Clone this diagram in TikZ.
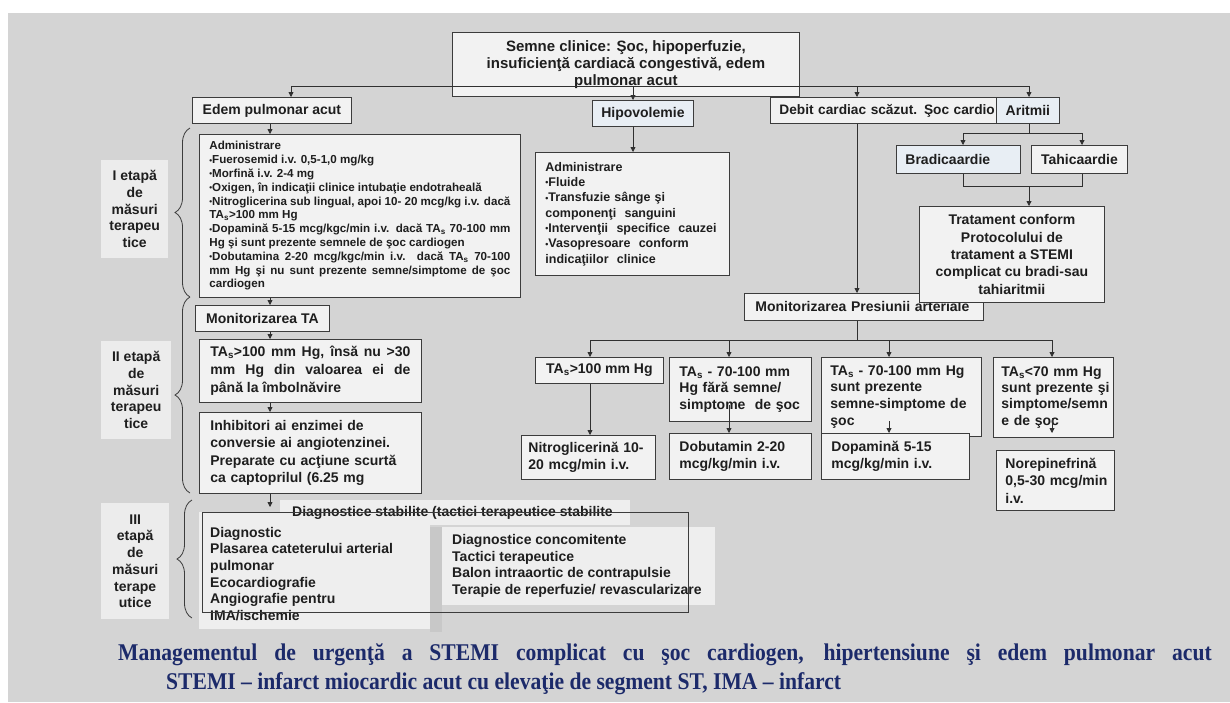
\documentclass[tikz,border=0pt]{standalone}
\usepackage{fontspec}
\setmainfont{Liberation Sans}
\newfontfamily\capfont{Liberation Serif}
\usetikzlibrary{arrows.meta,decorations.pathreplacing}
\definecolor{bg}{HTML}{D4D4D4}
\definecolor{bf}{HTML}{F2F2F2}
\definecolor{bl}{HTML}{E8EEF4}
\definecolor{lb}{HTML}{ECECEC}
\definecolor{pn}{HTML}{EEEEEE}
\definecolor{sh}{HTML}{C8C8C8}
\definecolor{bd}{HTML}{3C3C3C}
\definecolor{lc}{HTML}{303030}
\definecolor{tx}{HTML}{1E1E1E}
\definecolor{cap}{HTML}{1C2A6A}
\hyphenpenalty=10000
\exhyphenpenalty=10000
\newcommand{\fs}[2]{\fontsize{#1}{#2}\selectfont\bfseries\hyphenpenalty=10000\exhyphenpenalty=10000}
\newcommand{\bul}{\raisebox{0.1ex}{\scalebox{0.7}{•}}}
\newcommand{\TAs}{TA\textsubscript{s}}
\tikzset{
  box/.style={draw=bd, fill=bf, line width=0.8pt, inner sep=0pt, anchor=north west, text=tx, font=\fs{14}{17}},
  lbox/.style={box, align=left},
  lbl/.style={fill=lb, inner sep=0pt, anchor=north west, align=center, text=tx, font=\fs{14}{16.7}},
  conn/.style={draw=lc, line width=0.8pt},
  arr/.style={conn, -{Triangle[length=5pt,width=5pt]}},
  brc/.style={draw=bd, line width=0.8pt, decorate, decoration={brace, amplitude=15pt}},
  captxt/.style={anchor=west, inner sep=0pt, text=cap, font=\capfont\bfseries\fontsize{24}{27}\selectfont},
}
\begin{document}
\begin{tikzpicture}[x=1pt,y=-1pt]
\useasboundingbox (0,0) rectangle (1230,702);
\fill[white] (0,0) rectangle (1230,702);
\fill[bg] (8,13) rectangle (1230,702);

% ---- top
\node[box, minimum width=347pt, minimum height=64pt, align=center, font=\fs{15}{17}] (top) at (452,32)
  {Semne clinice: Şoc, hipoperfuzie,\\ insuficienţă cardiacă congestivă, edem\\ pulmonar acut};

% ---- row 1
\node[box, minimum width=159pt, minimum height=26pt] (edem) at (192,97) {Edem pulmonar acut};
\node[box, fill=bl, minimum width=101pt, minimum height=26pt] (hipo) at (592,100) {Hipovolemie};
\node[lbox, text width=209pt, inner xsep=9pt, minimum height=26pt, font=\fs{13.7}{17}] (debit) at (770,97) {\mbox{Debit cardiac scăzut. Şoc cardio}};
\node[box, fill=bl, minimum width=63pt, minimum height=26pt] (aritmii) at (996,97) {Aritmii};

% ---- aritmii branch
\node[lbox, fill=bl, text width=106pt, inner xsep=9pt, minimum height=28pt] (brad) at (896,145) {Bradicaardie};
\node[box, minimum width=96pt, minimum height=28pt] (tahi) at (1031,145) {Tahicaardie};
\node[box, minimum width=239pt, minimum height=27pt, lbox, text width=217pt, inner xsep=11pt] (monp) at (744,293) {\mbox{Monitorizarea Presiunii arteriale}};
\node[box, minimum width=185pt, minimum height=96pt, align=center, font=\fs{14}{17.3}] (trat) at (919,206)
  {Tratament conform\\ Protocolului de\\ tratament a STEMI\\ complicat cu bradi-sau\\ tahiaritmii};

% ---- pressure branch
\node[box, minimum width=128pt, minimum height=26pt] (t1) at (535,357) {\TAs>100 mm Hg};
\node[lbox, text width=122pt, inner xsep=10pt, minimum height=64pt, font=\fs{14}{16.7}] (t2) at (669,357)
  {\TAs{} - 70-100 mm\\ Hg fără semne/\\ simptome \ de şoc};
\node[lbox, text width=142pt, inner xsep=9pt, minimum height=79pt, font=\fs{14}{16.7}] (t3) at (821,357)
  {\mbox{\TAs{} - 70-100 mm Hg}\\ sunt prezente\\ \mbox{semne-simptome de}\\ şoc};
\node[lbox, text width=104pt, inner xsep=8pt, minimum height=80pt, font=\fs{14}{16.2}] (t4) at (993,357)
  {\mbox{\TAs<70 mm Hg}\\ \mbox{sunt prezente şi}\\ \mbox{simptome/semn}\\ e de şoc};
\node[lbox, text width=120pt, inner xsep=7pt, minimum height=44pt, font=\fs{14}{17}] (n1) at (521,435)
  {\mbox{Nitroglicerină 10-}\\ 20 mcg/min i.v.};
\node[lbox, text width=122pt, inner xsep=10pt, minimum height=46pt, font=\fs{14}{17}] (n2) at (669,433)
  {Dobutamin 2-20\\ mcg/kg/min i.v.};
\node[lbox, text width=128pt, inner xsep=10pt, minimum height=46pt, font=\fs{14}{17}] (n3) at (821,433)
  {Dopamină 5-15\\ mcg/kg/min i.v.};
\node[lbox, text width=100pt, inner xsep=9pt, minimum height=60pt, font=\fs{14}{17.5}] (n4) at (996,450)
  {Norepinefrină\\ \mbox{0,5-30 mcg/min}\\ i.v.};

% ---- hipovolemie admin
\node[lbox, text width=174pt, inner xsep=10pt, minimum height=123pt, font=\fs{12.5}{15.3}] (adm2) at (535,152)
  {Administrare\\ \bul Fluide\\ \bul Transfuzie sânge şi\\ componenţi \ sanguini\\ \bul Intervenţii \ specifice \ cauzei\\ \bul Vasopresoare \ conform\\ indicaţiilor \ clinice};

% ---- left column
\node[box, align=justify, text width=301pt, inner xsep=10pt, minimum height=163pt, font=\fs{11.6}{13.8}] (adm1) at (199,134)
  {Administrare\\
   \bul Fuerosemid i.v. 0,5-1,0 mg/kg\\
   \bul Morfină i.v. 2-4 mg\\
   \bul Oxigen, în indicaţii clinice intubaţie endotraheală\\
   \bul Nitroglicerina sub lingual, apoi 10- 20 mcg/kg i.v. dacă\linebreak \TAs>100 mm Hg\\
   \bul Dopamină 5-15 mcg/kgc/min i.v. dacă \TAs{} 70-100 mm\linebreak Hg şi sunt prezente semnele de şoc cardiogen\\
   \bul Dobutamina 2-20 mcg/kgc/min i.v. dacă \TAs{} 70-100\linebreak mm Hg şi nu sunt prezente semne/simptome de şoc\linebreak cardiogen};
\node[box, minimum width=134pt, minimum height=26pt] (monta) at (195,305) {Monitorizarea TA};
\node[box, align=justify, text width=200pt, inner xsep=11pt, minimum height=63pt, font=\fs{14}{18}] (taa) at (199,339)
  {\TAs>100 mm Hg, însă nu >30\linebreak mm Hg din valoarea ei de\linebreak până la îmbolnăvire};
\node[lbox, text width=200pt, inner xsep=11pt, minimum height=81pt, font=\fs{14}{17.3}] (inh) at (199,412)
  {Inhibitori ai enzimei de\\ conversie ai angiotenzinei.\\ Preparate cu acţiune scurtă\\ ca captoprilul (6.25 mg};

% ---- stage labels
\node[lbl, minimum width=67pt, minimum height=98pt] (l1) at (101,160) {I etapă\\ de\\ măsuri\\ terapeu\\ tice};
\node[lbl, minimum width=70pt, minimum height=98pt] (l2) at (101,341) {II etapă\\ de\\ măsuri\\ terapeu\\ tice};
\node[lbl, minimum width=68pt, minimum height=116pt] (l3) at (101,503) {III\\ etapă\\ de\\ măsuri\\ terape\\ utice};

% braces
\draw[brc] (190,297) -- (190,128);
\draw[brc] (190,493) -- (190,297);
\draw[brc] (192,618) -- (192,500);

% ---- stage III
\fill[pn] (280,500) rectangle (630,525);
\fill[pn] (199,512) rectangle (430,629);
\fill[sh] (430,527) rectangle (442,632);
\fill[pn] (442,527) rectangle (715,605);
\node[anchor=west, inner sep=0pt, text=tx, font=\fs{14}{17}] (hdr) at (292,513) {Diagnostice stabilite (tactici terapeutice stabilite};
\node[anchor=west, inner sep=0pt, text=tx, align=left, font=\fs{14}{16.7}] (dl) at (210,574)
  {Diagnostic\\ Plasarea cateterului arterial\\ pulmonar\\ Ecocardiografie\\ Angiografie pentru\\ IMA/ischemie};
\node[anchor=west, inner sep=0pt, text=tx, align=left, font=\fs{14}{16.7}] (dr) at (452,566)
  {Diagnostice concomitente\\ Tactici terapeutice\\ Balon intraaortic de contrapulsie\\ Terapie de reperfuzie/ revascularizare};
\node[draw=bd, line width=0.8pt, inner sep=0pt, anchor=north west, minimum width=486pt, minimum height=100pt] (diag) at (202,512) {};

% ---- connectors
\coordinate (r1l) at (291,86);
\coordinate (dh) at (633,86);
\coordinate (dd) at (857,86);
\coordinate (r1r) at (1029,86);
\draw[conn] (r1l) -- (r1r);
\draw[arr] (r1l) -- (r1l |- edem.north);
\draw[arr] (dh) -- (dh |- hipo.north);
\draw[arr] (dd) -- (dd |- debit.north);
\draw[arr] (r1r) -- (r1r |- aritmii.north);
\draw[arr] (dh |- hipo.south) -- (dh |- adm2.north);
\draw[arr] (dd |- debit.south) -- (dd |- monp.north);

\coordinate (ab) at (1029,133);
\coordinate (abl) at (963,133);
\coordinate (abr) at (1082,133);
\draw[conn] (r1r |- aritmii.south) -- (ab);
\draw[conn] (abl) -- (abr);
\draw[arr] (abl) -- (abl |- brad.north);
\draw[arr] (abr) -- (abr |- tahi.north);
\coordinate (jl) at (963,186);
\coordinate (jr) at (1082,186);
\coordinate (jm) at (1029,186);
\draw[conn] (abl |- brad.south) -- (jl) -- (jr) -- (abr |- tahi.south);
\draw[arr] (jm) -- (jm |- trat.north);

\coordinate (m2) at (857,340);
\coordinate (p1) at (590,340);
\coordinate (p2) at (729,340);
\coordinate (p3) at (889,340);
\coordinate (p4) at (1052,340);
\draw[conn] (dd |- monp.south) -- (m2);
\draw[conn] (p1) -- (p4);
\draw[arr] (p1) -- (p1 |- t1.north);
\draw[arr] (p2) -- (p2 |- t2.north);
\draw[arr] (p3) -- (p3 |- t3.north);
\draw[arr] (p4) -- (p4 |- t4.north);
\draw[arr] (p1 |- t1.south) -- (p1 |- n1.north);
\coordinate (s2) at (729,405);
\coordinate (s3) at (889,421);
\coordinate (s4) at (1052,418);
\coordinate (e4) at (1052,433);
\draw[arr] (s2) -- (s2 |- n2.north);
\draw[arr] (s3) -- (s3 |- n3.north);
\draw[arr] (s4) -- (e4);

\coordinate (lx) at (270,0);
\coordinate (din) at (270,507);
\draw[arr] (lx |- edem.south) -- (lx |- adm1.north);
\draw[arr] (lx |- adm1.south) -- (lx |- monta.north);
\draw[arr] (lx |- monta.south) -- (lx |- taa.north);
\draw[arr] (lx |- taa.south) -- (lx |- inh.north);
\draw[arr] (lx |- inh.south) -- (din);

% ---- caption
\node[captxt] (cap1) at (118,655)
  {\scalebox{0.9}[1]{\makebox[1215pt][s]{Managementul de urgenţă a STEMI complicat cu şoc cardiogen, hipertensiune şi edem pulmonar acut}}};
\node[captxt] (cap2) at (166,684)
  {\scalebox{0.9}[1]{STEMI – infarct miocardic acut cu elevaţie de segment ST, IMA – infarct}};
\end{tikzpicture}
\end{document}
